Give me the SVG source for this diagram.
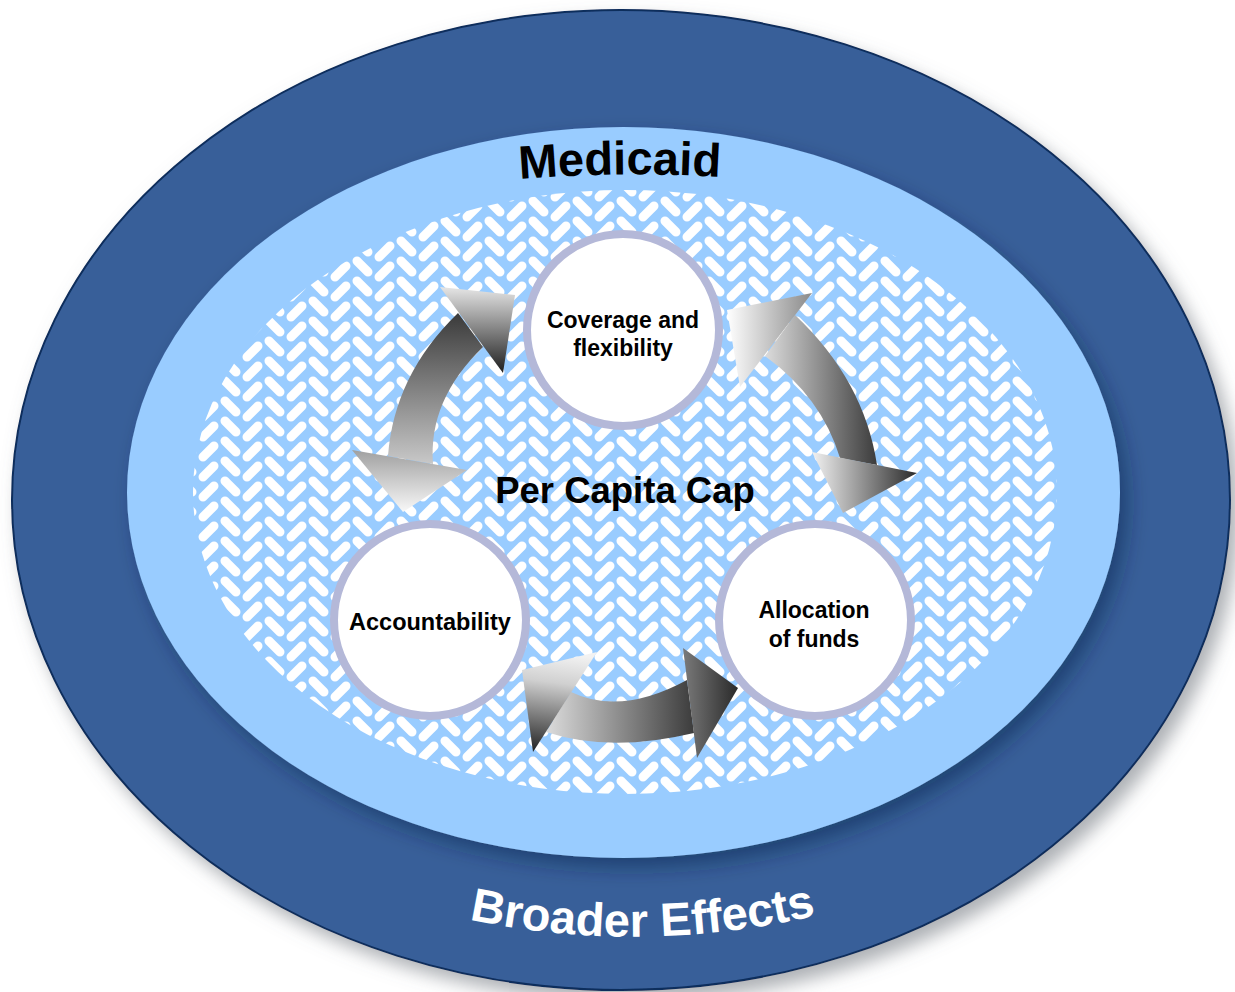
<svg xmlns="http://www.w3.org/2000/svg" width="1235" height="992" viewBox="0 0 1235 992">
<style>
.lbl{font-family:"Liberation Sans",Arial,sans-serif;font-weight:bold;fill:#000;text-anchor:middle}
.node{fill:#fff;stroke:#b4b8d8;stroke-width:8}
</style>
<defs>
<filter id="sh1" x="-10%" y="-10%" width="125%" height="125%">
<feGaussianBlur in="SourceAlpha" stdDeviation="9"/>
<feOffset dx="8" dy="10" result="b"/>
<feFlood flood-color="#6a7078" flood-opacity="0.55"/>
<feComposite in2="b" operator="in"/>
<feMerge><feMergeNode/><feMergeNode in="SourceGraphic"/></feMerge>
</filter>
<filter id="sh2" x="-10%" y="-10%" width="125%" height="125%">
<feGaussianBlur in="SourceAlpha" stdDeviation="10"/>
<feOffset dx="8" dy="10" result="b"/>
<feFlood flood-color="#0e2244" flood-opacity="0.45"/>
<feComposite in2="b" operator="in"/>
<feMerge><feMergeNode/><feMergeNode in="SourceGraphic"/></feMerge>
</filter>
<pattern id="herr" patternUnits="userSpaceOnUse" width="44" height="20">
<rect width="44" height="20" fill="#99ccff"/>
<g stroke="#fff" stroke-width="9" stroke-linecap="round">
<line x1="5" y1="1" x2="16" y2="12"/>
<line x1="5" y1="21" x2="16" y2="32"/>
<line x1="5" y1="-19" x2="16" y2="-8"/>
<line x1="27" y1="17" x2="38" y2="6"/>
<line x1="27" y1="-3" x2="38" y2="-14"/>
<line x1="27" y1="37" x2="38" y2="26"/>
</g>
</pattern>
<linearGradient id="gV_ld" x1="0" y1="0" x2="0" y2="1"><stop offset="0" stop-color="#e6e6e6"/><stop offset="1" stop-color="#1e1e1e"/></linearGradient>
<linearGradient id="gL3" x1="0.4" y1="0" x2="0.3" y2="1"><stop offset="0" stop-color="#f2f2f2"/><stop offset="0.3" stop-color="#d0d0d0"/><stop offset="1" stop-color="#262626"/></linearGradient>
<linearGradient id="gV_dl" x1="0" y1="0" x2="0" y2="1"><stop offset="0" stop-color="#3a3a3a"/><stop offset="1" stop-color="#c8c8c8"/></linearGradient>
<linearGradient id="gV_gw" x1="0" y1="0" x2="0" y2="1"><stop offset="0" stop-color="#a0a0a0"/><stop offset="1" stop-color="#f8f8f8"/></linearGradient>
<linearGradient id="gH_ld" x1="0" y1="0" x2="1" y2="0"><stop offset="0" stop-color="#f2f2f2"/><stop offset="1" stop-color="#2a2a2a"/></linearGradient>
<linearGradient id="gH_wg" x1="0" y1="0" x2="1" y2="0"><stop offset="0" stop-color="#ffffff"/><stop offset="1" stop-color="#8a8a8a"/></linearGradient>
<linearGradient id="gH_sh" x1="0" y1="0" x2="1" y2="0"><stop offset="0" stop-color="#dcdcdc"/><stop offset="1" stop-color="#3c3c3c"/></linearGradient>
<linearGradient id="gH_gd" x1="0" y1="0" x2="1" y2="0"><stop offset="0" stop-color="#7a7a7a"/><stop offset="1" stop-color="#2a2a2a"/></linearGradient>
<path id="medArc" d="M 480 183 A 1400 1400 0 0 1 760 180" fill="none"/>
<path id="broArc" d="M 440 913 A 800 800 0 0 0 845 908" fill="none"/>
</defs>

<ellipse cx="621" cy="500" rx="609" ry="490" fill="#375f99" stroke="#0f2d5c" stroke-width="2" filter="url(#sh1)"/>
<ellipse cx="623.5" cy="492.5" rx="496.5" ry="365.5" fill="#99ccff" filter="url(#sh2)"/>
<ellipse cx="625" cy="492" rx="432" ry="302" fill="url(#herr)"/>

<text class="lbl" font-size="47"><textPath href="#medArc" startOffset="50%">Medicaid</textPath></text>
<text class="lbl" font-size="47" style="fill:#fff"><textPath href="#broArc" startOffset="50%">Broader Effects</textPath></text>

<text class="lbl" x="625" y="503" font-size="36.5">Per Capita Cap</text>

<g id="connectors">
<g id="arrow-cov-acc">
<path d="M 458 313 Q 394 375 388 456 L 433 464 Q 428 400 483 347 Z" fill="url(#gV_dl)"/>
<polygon points="440,287 515,295 503,373" fill="url(#gV_ld)"/>
<polygon points="352,450 467,470 403,512" fill="url(#gV_gw)"/>
</g>
<g id="arrow-cov-alloc">
<path d="M 795 315 Q 864 380 877 465 L 840 458 Q 821.5 397 765 356 Z" fill="url(#gH_sh)"/>
<polygon points="812,293 727,310 740,387" fill="url(#gH_wg)"/>
<polygon points="812,452 917,473 843,513" fill="url(#gH_ld)"/>
</g>
<g id="arrow-acc-alloc">
<path d="M 571 692 Q 621 716 687 680 L 694 733 Q 610 753 546 732 Z" fill="url(#gH_sh)"/>
<polygon points="522,670 597,652 533,752" fill="url(#gL3)"/>
<polygon points="683,648 738,688 697,758" fill="url(#gH_gd)"/>
</g>
</g>

<g id="coverage">
<circle class="node" cx="623" cy="330" r="96"/>
<text class="lbl" x="623" y="328" font-size="23">Coverage and</text>
<text class="lbl" x="623" y="356" font-size="23">flexibility</text>
</g>
<g id="accountability">
<circle class="node" cx="430" cy="620" r="96"/>
<text class="lbl" x="430" y="630" font-size="23.5">Accountability</text>
</g>
<g id="allocation">
<circle class="node" cx="815" cy="620" r="96"/>
<text class="lbl" x="814" y="618" font-size="23">Allocation</text>
<text class="lbl" x="814" y="647" font-size="23">of funds</text>
</g>
</svg>
